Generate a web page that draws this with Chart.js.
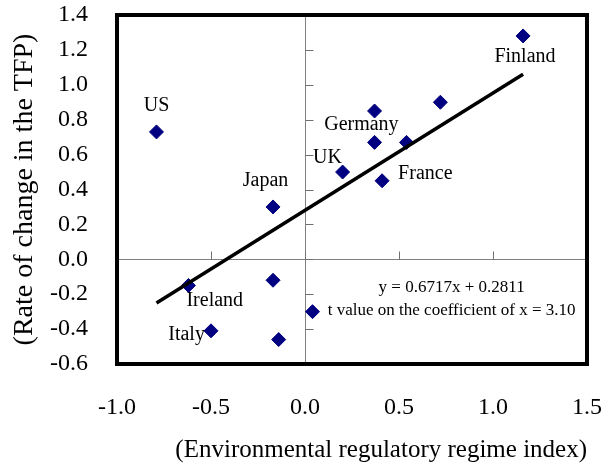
<!DOCTYPE html>
<html lang="en">
  <head>
    <meta charset="utf-8">
    <script src="https://cdn.jsdelivr.net/npm/chart.js"></script>
    <title>TFP change vs environmental regulatory regime</title>
    <style>
      body { margin: 0; background: #fff; }
    </style>
  </head>
  <body>
    <canvas id="chart" width="612" height="463"></canvas>
  <script>
    // values
    const regimeIndex = [-0.79, -0.17, 1.16, 0.37, 0.72, 0.37, 0.54, 0.20, 0.41, -0.62, -0.17, -0.50, -0.14, 0.04];
    const tfpChange = [0.73, 0.30, 1.28, 0.85, 0.90, 0.67, 0.67, 0.50, 0.45, -0.15, -0.12, -0.41, -0.46, -0.30];
    const trendX = [-0.79, 1.16];
    const trendY = [-0.25, 1.06];
    const countryNames = ['US', 'Japan', 'Finland', 'Germany', 'UK', 'France', 'Ireland', 'Italy'];
    const countryLabelAt = [[-0.79, 0.88], [-0.21, 0.45], [1.17, 1.16], [0.30, 0.77], [0.12, 0.58], [0.64, 0.49], [-0.48, -0.24], [-0.63, -0.43]];
    const equationText = ['y = 0.6717x + 0.2811', 't value on the coefficient of x = 3.10'];
    const equationAt = [[0.78, -0.16], [0.78, -0.295]];

    const serif = "'Liberation Serif', 'Times New Roman', serif";
    const navy = '#000080';

    const decorations = {
      id: 'decorations',
      beforeDatasetsDraw(chart) {
        const {ctx, chartArea: a, scales: {x, y}} = chart;
        const x0 = Math.round(x.getPixelForValue(0)) + 0.5;
        const y0 = Math.round(y.getPixelForValue(0)) + 0.5;
        ctx.save();
        // small tick marks sitting on the zero lines
        ctx.strokeStyle = '#707070';
        ctx.lineWidth = 1;
        ctx.beginPath();
        y.ticks.forEach(t => {
          const py = Math.round(y.getPixelForValue(t.value)) + 0.5;
          ctx.moveTo(x0, py); ctx.lineTo(x0 + 8, py);
        });
        x.ticks.forEach(t => {
          const px = Math.round(x.getPixelForValue(t.value)) + 0.5;
          ctx.moveTo(px, y0); ctx.lineTo(px, y0 - 8);
        });
        ctx.stroke();
        // heavy frame round the plot
        ctx.strokeStyle = '#000';
        ctx.lineWidth = 4;
        ctx.strokeRect(a.left, a.top, a.width, a.height);
        ctx.restore();
      },
      afterDatasetsDraw(chart) {
        const {ctx, scales: {x, y}} = chart;
        ctx.save();
        ctx.fillStyle = '#000';
        ctx.textAlign = 'center';
        ctx.textBaseline = 'middle';
        ctx.font = '20px ' + serif;
        countryNames.forEach((name, i) => {
          const [vx, vy] = countryLabelAt[i];
          ctx.fillText(name, x.getPixelForValue(vx), y.getPixelForValue(vy));
        });
        ctx.font = '17px ' + serif;
        equationText.forEach((txt, i) => {
          const [vx, vy] = equationAt[i];
          ctx.fillText(txt, x.getPixelForValue(vx), y.getPixelForValue(vy));
        });
        ctx.restore();
      }
    };

    const zeroOnly = c => (Math.abs(c.tick.value) < 1e-9 ? '#808080' : 'transparent');
    const oneDecimal = v => (Math.abs(v) < 1e-9 ? 0 : v).toFixed(1);
    // let the layout padding alone decide where the plot sits
    const noOverflow = s => { s.paddingTop = 0; s.paddingBottom = 0; s.paddingLeft = 0; s.paddingRight = 0; };

    new Chart(document.getElementById('chart'), {
      type: 'scatter',
      data: {
        datasets: [{
          label: 'Countries',
          data: regimeIndex.map((v, i) => ({x: v, y: tfpChange[i]})),
          pointStyle: 'rectRot',
          pointRadius: 7,
          backgroundColor: navy,
          borderColor: navy,
          borderWidth: 1,
          order: 2
        }, {
          type: 'line',
          label: 'Trend',
          data: trendX.map((v, i) => ({x: v, y: trendY[i]})),
          borderColor: '#000',
          borderWidth: 3.5,
          pointRadius: 0,
          fill: false,
          order: 1 // drawn over the diamonds
        }]
      },
      options: {
        responsive: false,
        animation: false,
        layout: { padding: { top: 15, right: 25, left: 0, bottom: 0 } },
        plugins: { legend: { display: false }, tooltip: { enabled: false } },
        scales: {
          x: {
            type: 'linear',
            min: -1, max: 1.5,
            afterFit: s => { s.height = 99; noOverflow(s); },
            border: { display: false },
            grid: { color: zeroOnly, drawTicks: false, lineWidth: 1 },
            ticks: {
              stepSize: 0.5, padding: 29, maxRotation: 0, autoSkip: false,
              color: '#000', font: { family: serif, size: 24 },
              callback: oneDecimal
            },
            title: {
              display: true,
              text: '(Environmental regulatory regime index)',
              align: 'end',
              color: '#000',
              font: { family: serif, size: 25, lineHeight: 1 },
              padding: 0
            }
          },
          y: {
            type: 'linear',
            min: -0.6, max: 1.4,
            afterFit: s => { s.width = 117; noOverflow(s); },
            border: { display: false },
            grid: { color: zeroOnly, drawTicks: false, lineWidth: 1 },
            ticks: {
              stepSize: 0.2, padding: 29, autoSkip: false,
              color: '#000', font: { family: serif, size: 24 },
              callback: oneDecimal
            },
            title: {
              display: true,
              text: '(Rate of change in the TFP)',
              color: '#000',
              font: { family: serif, size: 28, lineHeight: 1.2 },
              padding: { top: 8, bottom: 0 }
            }
          }
        }
      },
      plugins: [decorations]
    });
  </script>
  </body>
</html>
